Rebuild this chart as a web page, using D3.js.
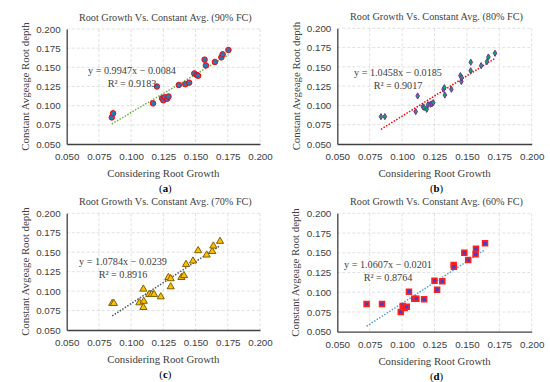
<!DOCTYPE html>
<html>
<head>
<meta charset="utf-8">
<script src="https://cdn.jsdelivr.net/npm/d3@7"></script>
<style>
  body { margin: 0; background: #fff; }
  svg { display: block; font-family: "Palatino Linotype", "Book Antiqua", "Liberation Serif", "DejaVu Serif", serif; }
  .grid line { stroke: #d9d9d9; stroke-dasharray: 3,2; stroke-width: 0.8; }
  .tick text { fill: #404040; font-size: 9.8px; }
</style>
</head>
<body>
<svg width="550" height="382"></svg>
<script>
// ticks shared by all four panels
var ticks = [0.050, 0.075, 0.100, 0.125, 0.150, 0.175, 0.200];

// (a) 90% FC
var xa = [0.085, 0.086, 0.117, 0.120, 0.124, 0.125, 0.126, 0.128, 0.129, 0.137, 0.142, 0.145, 0.149, 0.151, 0.152, 0.157, 0.158, 0.165, 0.170, 0.171, 0.1755];
var ya = [0.0847, 0.090, 0.103, 0.125, 0.1095, 0.107, 0.111, 0.109, 0.112, 0.127, 0.128, 0.130, 0.142, 0.140, 0.139, 0.160, 0.1525, 0.157, 0.163, 0.167, 0.1726];
// (b) 80% FC
var xb = [0.0837, 0.0867, 0.1105, 0.112, 0.116, 0.117, 0.119, 0.120, 0.1218, 0.123, 0.124, 0.132, 0.1326, 0.133, 0.138, 0.145, 0.1457, 0.146, 0.153, 0.1529, 0.161, 0.1655, 0.1666, 0.1717];
var yb = [0.0855, 0.0855, 0.092, 0.1123, 0.0985, 0.0972, 0.095, 0.101, 0.1015, 0.102, 0.1036, 0.121, 0.123, 0.1135, 0.121, 0.1387, 0.131, 0.136, 0.156, 0.145, 0.1516, 0.1568, 0.1628, 0.1676];
// (c) 70% FC
var xc = [0.0853, 0.0866, 0.1064, 0.1095, 0.1098, 0.1095, 0.114, 0.116, 0.1178, 0.123, 0.1289, 0.1307, 0.1307, 0.139, 0.141, 0.1426, 0.148, 0.152, 0.1586, 0.163, 0.1638, 0.169];
var yc = [0.0842, 0.0842, 0.085, 0.1026, 0.087, 0.079, 0.0958, 0.0958, 0.0958, 0.0927, 0.1176, 0.116, 0.1056, 0.1176, 0.120, 0.1344, 0.1387, 0.152, 0.1464, 0.151, 0.158, 0.164];
// (d) 60% FC
var xd = [0.0726, 0.0845, 0.099, 0.1005, 0.102, 0.1036, 0.1053, 0.1094, 0.111, 0.117, 0.125, 0.127, 0.131, 0.1398, 0.140, 0.148, 0.151, 0.1567, 0.157, 0.164];
var yd = [0.085, 0.085, 0.075, 0.0827, 0.080, 0.0815, 0.1007, 0.0918, 0.0918, 0.091, 0.1147, 0.103, 0.1138, 0.1345, 0.1323, 0.150, 0.1408, 0.148, 0.155, 0.162];

var titles = ["Root Growth Vs. Constant Avg. (90% FC)", "Root Growth Vs. Constant Avg. (80% FC)",
              "Root Growth Vs. Constant Avg. (70% FC)", "Root Growth Vs. Constant Avg. (60% FC)"];
var slopes = [0.9947, 1.0458, 1.0784, 1.0607];
var intercepts = [-0.0084, -0.0185, -0.0239, -0.0201];
var r2 = ["0.9183", "0.9017", "0.8916", "0.8764"];
var letters = ["a", "b", "c", "d"];

var panels = [
  {x: xa, y: ya, ox: 0,   oy: 0,   l: 66.7, r: 260,   t: 29,   b: 144,   yt: 25, eq: [132, 74],  mk: "circle",   fill: "#2e75b6", stroke: "#ff0000", line: "#70ad47"},
  {x: xb, y: yb, ox: 275, oy: 0,   l: 62.3, r: 256.7, t: 28.3, b: 144,   yt: 21, eq: [123, 76],  mk: "diamond",  fill: "#00b050", stroke: "#7030a0", line: "#ff0000"},
  {x: xc, y: yc, ox: 0,   oy: 190, l: 66.7, r: 260,   t: 23.3, b: 140,   yt: 25, eq: [123, 75],  mk: "triangle", fill: "#ffc000", stroke: "#7f6000", line: "#44546a"},
  {x: xd, y: yd, ox: 275, oy: 190, l: 62.3, r: 256.7, t: 23.3, b: 141.7, yt: 20, eq: [113, 78],  mk: "square",   fill: "#3f3fd0", stroke: "#ff2020", line: "#5b9bd5"}
];

var svg = d3.select("svg");

panels.forEach(function(p, i) {
  var g = svg.append("g").attr("transform", "translate(" + p.ox + "," + p.oy + ")");
  var x = d3.scaleLinear().domain([0.05, 0.2]).range([p.l, p.r]);
  var y = d3.scaleLinear().domain([0.05, 0.2]).range([p.b, p.t]);
  var cx = (p.l + p.r) / 2;

  // grid
  var grid = g.append("g").attr("class", "grid");
  grid.selectAll(".gx").data(ticks.slice(1)).enter().append("line")
      .attr("x1", function(d) { return x(d); }).attr("x2", function(d) { return x(d); })
      .attr("y1", p.t).attr("y2", p.b);
  grid.selectAll(".gy").data(ticks.slice(1)).enter().append("line")
      .attr("y1", function(d) { return y(d); }).attr("y2", function(d) { return y(d); })
      .attr("x1", p.l).attr("x2", p.r);

  // axes
  var xAxis = g.append("g").attr("transform", "translate(0," + p.b + ")")
      .call(d3.axisBottom(x).tickValues(ticks).tickFormat(d3.format(".3f")).tickSize(0).tickPadding(9));
  var yAxis = g.append("g").attr("transform", "translate(" + p.l + ",0)")
      .call(d3.axisLeft(y).tickValues(ticks).tickFormat(d3.format(".3f")).tickSize(0).tickPadding(6));
  [xAxis, yAxis].forEach(function(a) {
    a.select(".domain").attr("stroke", "#404040").attr("stroke-width", 1.3);
  });

  // trend line
  var x0 = d3.min(p.x), x1 = d3.max(p.x);
  g.append("line")
      .attr("x1", x(x0)).attr("y1", y(slopes[i] * x0 + intercepts[i]))
      .attr("x2", x(x1)).attr("y2", y(slopes[i] * x1 + intercepts[i]))
      .attr("stroke", p.line).attr("stroke-width", 1.5).attr("stroke-dasharray", "1.5,1.5");

  // markers
  var pts = p.x.map(function(v, k) { return [v, p.y[k]]; });
  var sym = {circle: d3.symbolCircle, diamond: d3.symbolDiamond, triangle: d3.symbolTriangle, square: d3.symbolSquare}[p.mk];
  var size = {circle: 24, diamond: 11, triangle: 22, square: 24}[p.mk];
  g.append("g").selectAll("path").data(pts).enter().append("path")
      .attr("d", d3.symbol().type(sym).size(size))
      .attr("transform", function(d) { return "translate(" + x(d[0]) + "," + y(d[1]) + ")"; })
      .attr("fill", p.fill).attr("stroke", p.stroke)
      .attr("stroke-width", p.mk == "square" ? 1.6 : 1);

  // equation
  g.append("text").attr("x", p.eq[0]).attr("y", p.eq[1]).attr("text-anchor", "middle")
      .attr("font-size", 10.2).attr("fill", "#404040")
      .text("y = " + slopes[i].toFixed(4) + "x \u2212 " + Math.abs(intercepts[i]).toFixed(4));
  g.append("text").attr("x", p.eq[0]).attr("y", p.eq[1] + 12.5).attr("text-anchor", "middle")
      .attr("font-size", 10.2).attr("fill", "#404040")
      .text("R\u00b2 = " + r2[i]);

  // titles
  g.append("text").attr("x", cx + 2).attr("y", p.t - 8).attr("text-anchor", "middle")
      .attr("font-size", 10.2).attr("fill", "#404040").text(titles[i]);
  g.append("text").attr("x", cx).attr("y", p.b + 33).attr("text-anchor", "middle")
      .attr("font-size", 10.8).attr("fill", "#404040").text("Considering Root Growth");
  g.append("text").attr("transform", "translate(" + p.yt + "," + ((p.t + p.b) / 2) + ") rotate(-90)")
      .attr("text-anchor", "middle").attr("dy", "0.35em")
      .attr("font-size", 10.8).attr("fill", "#404040").text("Constant Avgeage Root depth");

  var lab = g.append("text").attr("x", cx + 2).attr("y", p.b + 48).attr("text-anchor", "middle")
      .attr("font-size", 10.8).attr("fill", "#000");
  lab.append("tspan").text("(");
  lab.append("tspan").attr("font-weight", "bold").text(letters[i]);
  lab.append("tspan").text(")");
});
</script>
</body>
</html>
